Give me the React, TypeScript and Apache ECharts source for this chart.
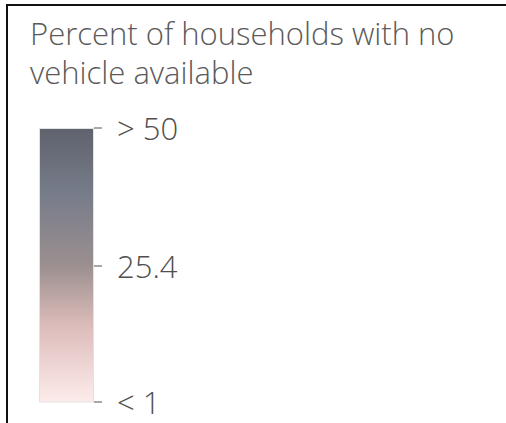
import React, { useEffect, useRef } from "react";
import * as echarts from "echarts";

const titleLines = ["Percent of households with no", "vehicle available"];
const legendRange = [1, 50];
const tickValues = [1, 25.4, 50];
const tickLabels = ["< 1", "25.4", "> 50"];
const barCategory = ["legend"];
const barValues = [50];

export default function App() {
  const ref = useRef<HTMLDivElement>(null);
  useEffect(() => {
    if (!ref.current) return;
    const chart = echarts.init(ref.current, null, { renderer: "svg" });
    const labelFor = (v: number) => {
      const i = tickValues.findIndex((t) => Math.abs(t - v) < 1e-6);
      return i >= 0 ? tickLabels[i] : "";
    };
    chart.setOption({
      animation: false,
      backgroundColor: "#ffffff",
      title: {
        text: titleLines.join("\n"),
        left: 25,
        top: 8,
        textStyle: {
          fontFamily: "Open Sans",
          fontWeight: 300,
          fontSize: 31,
          lineHeight: 39,
          color: "#5a5a5a",
        },
      },
      graphic: [
        { type: "rect", shape: { x: 6, y: 4, width: 500, height: 2 }, style: { fill: "#111" } },
        { type: "rect", shape: { x: 6, y: 4, width: 2, height: 419 }, style: { fill: "#111" } },
      ],
      grid: { left: 39, top: 128, width: 55, height: 274 },
      xAxis: {
        type: "category",
        data: barCategory,
        show: false,
      },
      yAxis: {
        type: "value",
        position: "right",
        min: legendRange[0],
        max: legendRange[1],
        splitLine: { show: false },
        axisLine: { show: false },
        axisTick: {
          show: true,
          length: 8,
          customValues: tickValues,
          lineStyle: { color: "#a8a8a8", width: 2 },
        },
        axisLabel: {
          customValues: tickValues,
          formatter: (v: number) => labelFor(v),
          margin: 23,
          fontFamily: "Open Sans",
          fontWeight: 300,
          fontSize: 31,
          color: "#505050",
          padding: [0, 0, 4, 0],
        },
      },
      series: [
        {
          type: "bar",
          data: barValues,
          barWidth: "100%",
          itemStyle: {
            borderColor: "#e2e2e2",
            borderWidth: 1,
            color: new echarts.graphic.LinearGradient(0, 0, 0, 1, [
              { offset: 0, color: "#5f636e" },
              { offset: 0.25, color: "#787d8b" },
              { offset: 0.5, color: "#9b8f8f" },
              { offset: 0.72, color: "#dcbcba" },
              { offset: 1, color: "#fdeceb" },
            ]),
          },
        },
      ],
    });
    return () => chart.dispose();
  }, []);
  return (
    <div
      ref={ref}
      style={{ position: "fixed", left: 0, top: 0, width: 506, height: 423 }}
    />
  );
}
